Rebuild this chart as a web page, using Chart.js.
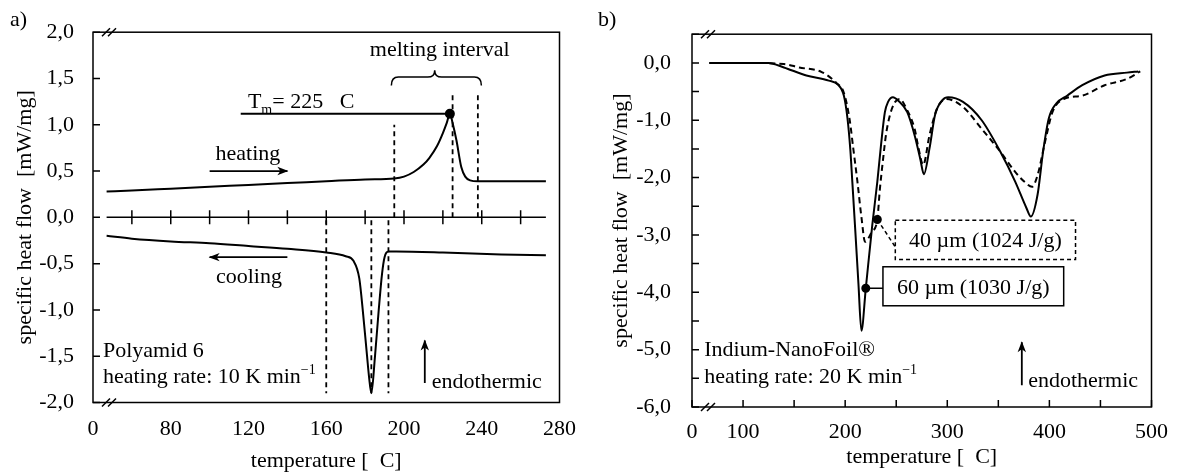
<!DOCTYPE html>
<html>
<head>
<meta charset="utf-8">
<script src="https://cdn.jsdelivr.net/npm/chart.js@4.4.1/dist/chart.umd.min.js"></script>
<style>
  html, body { margin: 0; padding: 0; background: #fff; }
  #wrap { position: relative; width: 1180px; height: 475px; }
  .panel { position: absolute; top: 0; width: 590px; height: 475px; }
</style>
</head>
<body>
<div id="wrap">
  <div class="panel" style="left:0"><canvas id="chartA" width="590" height="475"></canvas></div>
  <div class="panel" style="left:590px"><canvas id="chartB" width="590" height="475"></canvas></div>
</div>
<script>
// ---------- a) Polyamid 6 ----------
const heatT = [47, 60, 80, 100, 120, 140, 160, 180, 195, 200, 205, 210, 213, 217, 220, 222, 223.6, 225, 227, 229.5, 231.5, 234, 238, 250, 273];
const heatV = [0.28, 0.29, 0.31, 0.33, 0.35, 0.37, 0.39, 0.41, 0.42, 0.44, 0.49, 0.57, 0.64, 0.77, 0.91, 1.02, 1.12, 1.02, 0.83, 0.54, 0.44, 0.40, 0.39, 0.39, 0.39];
const coolT = [47, 60, 80, 100, 120, 140, 160, 170, 174, 177, 179, 181, 182, 183.2, 185, 187, 188.7, 190, 192, 196, 220, 250, 273];
const coolV = [-0.20, -0.23, -0.26, -0.28, -0.31, -0.34, -0.38, -0.42, -0.47, -0.66, -1.05, -1.50, -1.72, -1.90, -1.52, -1.0, -0.61, -0.43, -0.37, -0.37, -0.38, -0.40, -0.41];
const zeroT = [47, 273];
const heatMarksT = [195, 225, 238];
const heatMarksTop = [1.0, 1.35, 1.35];
const coolMarksT = [160, 183.2, 192];
const coolMarksV = [-0.03, -1.9];
const tmPeak = { x: 223.6, y: 1.12 };
const tmLineT = [116, 223.6];
const heatArrowT = [100, 140], heatArrowV = 0.5;
const coolArrowT = [140, 100], coolArrowV = -0.43;
const endoArrowA = { x: 210.7, y: [-1.79, -1.33] };
const braceA = { left: 193.5, mid: 215.8, right: 239.8, ends: 1.425, body: 1.515, tip: 1.59 };

const xTicksA = [40, 80, 120, 160, 200, 240, 280];
const xLabelsA = ['0', '80', '120', '160', '200', '240', '280'];
const zeroTicksA = [60, 80, 100, 120, 140, 160, 180, 200, 220, 240, 260];
const yTicksA = [-2, -1.5, -1, -0.5, 0, 0.5, 1, 1.5, 2];
const yLabelsA = ['-2,0', '-1,5', '-1,0', '-0,5', '0,0', '0,5', '1,0', '1,5', '2,0'];

// ---------- b) Indium-NanoFoil ----------
const foil60T = [67, 100, 125, 140, 162, 184, 193, 198.7, 202.3, 205, 207, 210, 213, 215.9, 220.2, 226.6, 231.5, 235, 238.9, 242, 246.8, 252, 260.8, 268, 273.5, 277.1, 282.6, 288, 295.3, 300.9, 315.4, 333.7, 352, 366.5, 377.5, 381.8, 388.4, 393.8, 399.4, 406.7, 417.6, 432.2, 454.1, 475.9, 487];
const foil60V = [0, 0, 0, -0.08, -0.22, -0.31, -0.38, -0.57, -0.97, -1.5, -2.07, -2.95, -3.85, -4.67, -3.93, -2.82, -2.07, -1.45, -0.86, -0.68, -0.60, -0.66, -0.86, -1.26, -1.67, -1.94, -1.49, -0.91, -0.65, -0.60, -0.68, -1.0, -1.55, -2.07, -2.53, -2.68, -2.30, -1.55, -0.97, -0.71, -0.57, -0.39, -0.22, -0.17, -0.15];
const foil40T = [67, 100, 140, 155, 177, 191.4, 198.7, 204.2, 208, 212, 216, 219.5, 226, 231.5, 234, 237, 240, 244, 249, 253.5, 260, 268, 272, 276.4, 282.6, 289.9, 299, 315.4, 333.7, 352, 366.5, 376, 383, 388.4, 395.7, 403, 414, 432.2, 454.1, 475.9, 489];
const foil40V = [0, 0, -0.02, -0.08, -0.16, -0.35, -0.52, -0.97, -1.5, -2.07, -2.7, -3.12, -2.95, -2.73, -2.2, -1.7, -1.25, -0.9, -0.68, -0.63, -0.8, -1.15, -1.5, -1.78, -1.26, -0.80, -0.63, -0.77, -1.15, -1.55, -1.90, -2.08, -2.16, -1.96, -1.38, -0.86, -0.63, -0.57, -0.39, -0.28, -0.15];
const dot60 = { x: 220.2, y: -3.93 }, dot40 = { x: 231.5, y: -2.73 };
const lead60End = { x: 237, y: -3.93 }, lead40End = { x: 249.1, y: -3.21 };
const box40 = { x0: 249.1, x1: 425.6, y0: -2.745, y1: -3.43, text: '40 µm (1024 J/g)', dash: [4, 3] };
const box60 = { x0: 237, x1: 414, y0: -3.555, y1: -4.235, text: '60 µm (1030 J/g)', dash: [] };
const endoArrowB = { x: 373, y: [-5.62, -4.87] };

const xTicksB = [50, 100, 150, 200, 250, 300, 350, 400, 450, 500];
const xLabelsB = ['0', '100', '', '200', '', '300', '', '400', '', '500'];
const yTicksB = [-6, -5.5, -5, -4.5, -4, -3.5, -3, -2.5, -2, -1.5, -1, -0.5, 0, 0.5];
const yLabelsB = ['-6,0', '', '-5,0', '', '-4,0', '', '-3,0', '', '-2,0', '', '-1,0', '', '0,0', ''];

// ---------- helpers ----------
const FONT = "'Liberation Serif', 'Times New Roman', serif";
const SIZE = 22;
const pts = (xs, ys) => xs.map((x, i) => ({ x, y: Array.isArray(ys) ? ys[i] : ys }));
const line = (data, extra = {}) => Object.assign({
  data, borderColor: '#000', backgroundColor: '#000', borderWidth: 2,
  pointRadius: 0, fill: false, tension: 0
}, extra);
const dashed = { borderDash: [5, 4], borderWidth: 1.8 };

function drawNote(ctx, n, px, py) {
  const base = py(n.y) + 0.3375 * SIZE;
  const parts = n.parts || [{ t: n.text }];
  const widths = parts.map(p => { ctx.font = `${p.size || SIZE}px ${FONT}`; return ctx.measureText(p.t).width; });
  let x = px(n.x);
  if (n.align === 'center') x -= widths.reduce((a, b) => a + b, 0) / 2;
  ctx.textAlign = 'left';
  ctx.textBaseline = 'alphabetic';
  parts.forEach((p, i) => {
    ctx.font = `${p.size || SIZE}px ${FONT}`;
    ctx.fillText(p.t, x, base + (p.dy || 0));
    x += widths[i];
  });
}

function makeOverlay(cfg) {
  return {
    id: 'overlay',
    afterDatasetsDraw(chart) {
      const { ctx, chartArea: area } = chart;
      const xs = chart.scales.x, ys = chart.scales.y;
      const px = v => xs.getPixelForValue(v), py = v => ys.getPixelForValue(v);
      ctx.save();
      ctx.strokeStyle = '#000';
      ctx.fillStyle = '#000';
      ctx.lineWidth = 1.5;
      ctx.setLineDash([]);

      // frame and inward ticks
      ctx.strokeRect(area.left, area.top, area.right - area.left, area.bottom - area.top);
      ctx.beginPath();
      cfg.yTicks.forEach(v => { ctx.moveTo(area.left, py(v)); ctx.lineTo(area.left + 7, py(v)); });
      (cfg.xTicksIn || []).forEach(v => { ctx.moveTo(px(v), area.bottom); ctx.lineTo(px(v), area.bottom - 7); });
      (cfg.zeroTicks || []).forEach(v => { ctx.moveTo(px(v), py(0) - 7); ctx.lineTo(px(v), py(0) + 7); });
      ctx.stroke();

      // axis break marks
      ctx.beginPath();
      [area.top, area.bottom].forEach(y => {
        [9, 15].forEach(dx => {
          ctx.moveTo(area.left + dx, y + 4);
          ctx.lineTo(area.left + dx + 8, y - 4);
        });
      });
      ctx.stroke();

      // arrow heads
      chart.data.datasets.forEach((ds, i) => {
        if (!ds.arrow) return;
        const el = chart.getDatasetMeta(i).data;
        const a = el[el.length - 2], b = el[el.length - 1];
        const ang = Math.atan2(b.y - a.y, b.x - a.x);
        const c = Math.cos(ang), s = Math.sin(ang);
        const L = 10, W = 4.2, N = 7;
        ctx.beginPath();
        ctx.moveTo(b.x + c, b.y + s);
        ctx.lineTo(b.x - L * c + W * s, b.y - L * s - W * c);
        ctx.lineTo(b.x - N * c, b.y - N * s);
        ctx.lineTo(b.x - L * c - W * s, b.y - L * s + W * c);
        ctx.closePath();
        ctx.fill();
      });

      // brace
      if (cfg.brace) {
        const br = cfg.brace, r = 7;
        const L = px(br.left), M = px(br.mid), R = px(br.right);
        const yE = py(br.ends), yB = py(br.body), yT = py(br.tip);
        ctx.beginPath();
        ctx.moveTo(L, yE);
        ctx.quadraticCurveTo(L, yB, L + r, yB);
        ctx.lineTo(M - r, yB);
        ctx.quadraticCurveTo(M, yB, M, yT);
        ctx.quadraticCurveTo(M, yB, M + r, yB);
        ctx.lineTo(R - r, yB);
        ctx.quadraticCurveTo(R, yB, R, yE);
        ctx.stroke();
      }

      // boxed labels
      (cfg.boxes || []).forEach(bx => {
        const x0 = px(bx.x0), x1 = px(bx.x1), y0 = py(bx.y0), y1 = py(bx.y1);
        ctx.fillStyle = '#fff';
        ctx.fillRect(x0, y0, x1 - x0, y1 - y0);
        ctx.setLineDash(bx.dash);
        ctx.strokeRect(x0, y0, x1 - x0, y1 - y0);
        ctx.setLineDash([]);
        ctx.fillStyle = '#000';
        drawNote(ctx, { x: (bx.x0 + bx.x1) / 2, y: (bx.y0 + bx.y1) / 2, text: bx.text, align: 'center' }, px, py);
      });

      // notes
      ctx.fillStyle = '#000';
      cfg.notes.forEach(n => drawNote(ctx, n, px, py));

      // panel letter
      ctx.font = `${SIZE}px ${FONT}`;
      ctx.textAlign = 'left';
      ctx.textBaseline = 'middle';
      ctx.fillText(cfg.letter.text, cfg.letter.x, cfg.letter.y);
      ctx.restore();
    }
  };
}

function axes(o) {
  const font = { family: FONT, size: SIZE };
  return {
    x: {
      type: 'linear', min: o.xMin, max: o.xMax,
      afterBuildTicks: s => { s.ticks = o.xTicks.map(value => ({ value })); },
      afterFit: s => { s.height = o.xHeight; },
      grid: { display: false, drawTicks: false },
      border: { display: false },
      ticks: { color: '#000', font, padding: o.xPad, autoSkip: false, maxRotation: 0,
        callback: (v, i) => o.xLabels[i] },
      title: { display: true, text: 'temperature [  C]', color: '#000', font,
        padding: { top: 0, bottom: o.xTitlePad } }
    },
    y: {
      type: 'linear', min: o.yMin, max: o.yMax,
      afterBuildTicks: s => { s.ticks = o.yTicks.map(value => ({ value })); },
      afterFit: s => { s.width = o.yWidth; },
      grid: { display: false, drawTicks: false },
      border: { display: false },
      ticks: { color: '#000', font, padding: o.yPad, autoSkip: false,
        callback: (v, i) => o.yLabels[i] },
      title: { display: true, text: 'specific heat flow  [mW/mg]', color: '#000', font,
        padding: { top: o.yTitlePad, bottom: 0 } }
    }
  };
}

const common = {
  responsive: false,
  animation: false,
  devicePixelRatio: 1,
  plugins: { legend: { display: false }, tooltip: { enabled: false } }
};

// ---------- chart a ----------
new Chart(document.getElementById('chartA'), {
  type: 'line',
  data: {
    datasets: [
      line(pts(zeroT, 0), { borderWidth: 1.5 }),
      line(pts(heatT, heatV), { cubicInterpolationMode: 'monotone' }),
      line(pts(coolT, coolV), { cubicInterpolationMode: 'monotone' }),
      ...heatMarksT.map((t, i) => line([{ x: t, y: 0 }, { x: t, y: heatMarksTop[i] }], dashed)),
      ...coolMarksT.map(t => line(pts([t, t], coolMarksV), dashed)),
      line(pts(tmLineT, tmPeak.y)),
      line([tmPeak], { pointRadius: 4, showLine: false }),
      line(pts(heatArrowT, heatArrowV), { borderWidth: 1.8, arrow: true }),
      line(pts(coolArrowT, coolArrowV), { borderWidth: 1.8, arrow: true }),
      line(pts([endoArrowA.x, endoArrowA.x], endoArrowA.y), { borderWidth: 1.8, arrow: true })
    ]
  },
  options: Object.assign({}, common, {
    layout: { padding: { left: 0, right: 30, top: 32, bottom: 0 } },
    scales: axes({ xMin: 40, xMax: 280, xTicks: xTicksA, xLabels: xLabelsA, xHeight: 72.5, xPad: 14, xTitlePad: 1,
      yMin: -2, yMax: 2, yTicks: yTicksA, yLabels: yLabelsA, yWidth: 93, yPad: 19, yTitlePad: 12 })
  }),
  plugins: [makeOverlay({
    yTicks: yTicksA,
    zeroTicks: zeroTicksA,
    brace: braceA,
    letter: { text: 'a)', x: 10, y: 20 },
    notes: [
      { x: 218.4, y: 1.82, text: 'melting interval', align: 'center' },
      { x: 119.7, y: 1.265, parts: [{ t: 'T' }, { t: 'm', size: 14, dy: 6 }, { t: '= 225   C' }] },
      { x: 119.7, y: 0.70, text: 'heating', align: 'center' },
      { x: 120.2, y: -0.63, text: 'cooling', align: 'center' },
      { x: 45.1, y: -1.43, text: 'Polyamid 6' },
      { x: 45.1, y: -1.71, parts: [{ t: 'heating rate: 10 K min' }, { t: '\u22121', size: 14, dy: -9 }] },
      { x: 214.3, y: -1.76, text: 'endothermic' }
    ]
  })]
});

// ---------- chart b ----------
new Chart(document.getElementById('chartB'), {
  type: 'line',
  data: {
    datasets: [
      line(pts(foil60T, foil60V), { cubicInterpolationMode: 'monotone' }),
      line(pts(foil40T, foil40V), { cubicInterpolationMode: 'monotone', borderDash: [6, 4] }),
      line([dot60, lead60End], { borderWidth: 1.5 }),
      line([dot40, lead40End], { borderWidth: 1.5, borderDash: [4, 3] }),
      line([dot60, dot40], { pointRadius: 3.5, showLine: false }),
      line(pts([endoArrowB.x, endoArrowB.x], endoArrowB.y), { borderWidth: 1.8, arrow: true })
    ]
  },
  options: Object.assign({}, common, {
    layout: { padding: { left: 0, right: 26, top: 32, bottom: 0 } },
    scales: axes({ xMin: 50, xMax: 500, xTicks: xTicksB, xLabels: xLabelsB, xHeight: 68, xPad: 12, xTitlePad: 5,
      yMin: -6, yMax: 0.5, yTicks: yTicksB, yLabels: yLabelsB, yWidth: 102, yPad: 21, yTitlePad: 18 })
  }),
  plugins: [makeOverlay({
    yTicks: yTicksB,
    xTicksIn: xTicksB,
    boxes: [box40, box60],
    letter: { text: 'b)', x: 8, y: 20 },
    notes: [
      { x: 62, y: -4.98, text: 'Indium-NanoFoil®' },
      { x: 62, y: -5.454, parts: [{ t: 'heating rate: 20 K min' }, { t: '\u22121', size: 14, dy: -9 }] },
      { x: 379.2, y: -5.52, text: 'endothermic' }
    ]
  })]
});
</script>
</body>
</html>
